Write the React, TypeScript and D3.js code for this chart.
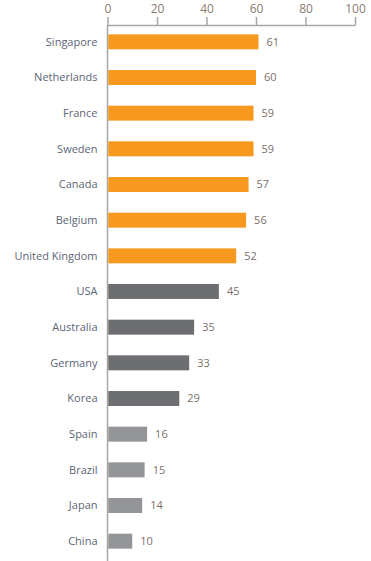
import React, { useEffect, useRef } from 'react'
import * as d3 from 'd3'

const countries = ['Singapore', 'Netherlands', 'France', 'Sweden', 'Canada', 'Belgium', 'United Kingdom', 'USA', 'Australia', 'Germany', 'Korea', 'Spain', 'Brazil', 'Japan', 'China']
const scores = [61, 60, 59, 59, 57, 56, 52, 45, 35, 33, 29, 16, 15, 14, 10]
const groups = ['top', 'top', 'top', 'top', 'top', 'top', 'top', 'mid', 'mid', 'mid', 'mid', 'low', 'low', 'low', 'low']
const ticks = [0, 20, 40, 60, 80, 100]

const width = 371
const height = 561

export default function App() {
  const ref = useRef<SVGSVGElement>(null)

  useEffect(() => {
    const svg = d3.select(ref.current)
    svg.selectAll('*').remove()

    const margin = { top: 25, left: 107.5, right: 16 }
    const x = d3.scaleLinear().domain([0, 100]).range([margin.left, width - margin.right])
    const y = d3.scaleBand().domain(countries).range([24, 559]).paddingInner(0.58).paddingOuter(0.29)

    const color = d3.scaleOrdinal<string>().domain(['top', 'mid', 'low']).range(['#f7991f', '#6d6e71', '#939598'])
    const font = "'Open Sans', sans-serif"
    const axisColor = '#a7a7a7'

    // top axis
    const axis = svg.append('g').attr('transform', `translate(0,${margin.top})`)
      .call(d3.axisTop(x).tickValues(ticks).tickSize(8).tickSizeOuter(0).tickPadding(4))
    axis.select('.domain').attr('stroke', axisColor).attr('stroke-width', 1.5)
    axis.selectAll('.tick line').attr('stroke', axisColor).attr('stroke-width', 1.5)
    axis.selectAll('.tick text').attr('fill', '#8a7b72').style('font-family', font).style('font-size', '12px')

    // vertical baseline
    svg.append('line')
      .attr('x1', x(0)).attr('x2', x(0))
      .attr('y1', margin.top).attr('y2', height)
      .attr('stroke', axisColor).attr('stroke-width', 1.5)

    const row = svg.selectAll('g.row').data(countries).enter().append('g').attr('class', 'row')

    row.append('rect')
      .attr('x', x(0) + 0.75)
      .attr('y', d => y(d)!)
      .attr('width', (d, i) => x(scores[i]) - x(0) - 0.75)
      .attr('height', y.bandwidth())
      .attr('fill', (d, i) => color(groups[i]))

    row.append('text')
      .attr('x', x(0) - 10)
      .attr('y', d => y(d)! + y.bandwidth() / 2)
      .attr('dy', '0.35em')
      .attr('text-anchor', 'end')
      .attr('fill', '#5c6575')
      .style('font-family', font)
      .style('font-size', '11px')
      .text(d => d)

    row.append('text')
      .attr('x', (d, i) => x(scores[i]) + 8)
      .attr('y', d => y(d)! + y.bandwidth() / 2)
      .attr('dy', '0.35em')
      .attr('fill', '#7d6f68')
      .style('font-family', font)
      .style('font-size', '11px')
      .text((d, i) => scores[i])
  }, [])

  return (
    <div style={{ position: 'absolute', left: 0, top: 0 }}>
      <svg ref={ref} width={width} height={height} style={{ display: 'block', background: '#fff' }} />
    </div>
  )
}
